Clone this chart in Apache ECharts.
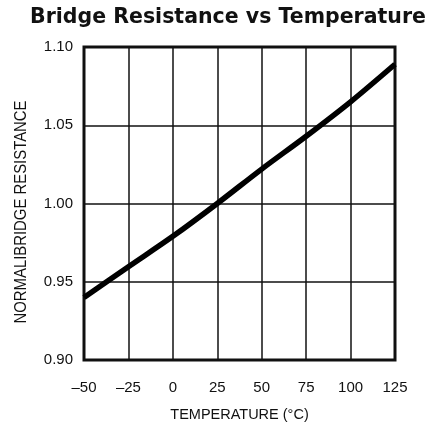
<!DOCTYPE html>
<html><head><meta charset="utf-8">
<script src="https://cdn.jsdelivr.net/npm/echarts@6/dist/echarts.min.js"></script>
<style>html,body{margin:0;padding:0;background:#fff}#c{width:431px;height:428px}</style>
</head><body><div id="c"></div>
<script>
const titleText = 'Bridge Resistance vs Temperature';
const xName = 'TEMPERATURE (°C)';
const yName = 'NORMALIBRIDGE RESISTANCE';
const temps = [-50, -25, 0, 25, 50, 75, 100, 125];
const resistance = [0.940, 0.9596, 0.979, 1.000, 1.022, 1.043, 1.065, 1.089];
const xTicks = [-50, -25, 0, 25, 50, 75, 100, 125];
const yTicks = [0.90, 0.95, 1.00, 1.05, 1.10];

const narrow = '"Liberation Sans Narrow", "Arial Narrow", "Liberation Sans", sans-serif';
const chart = echarts.init(document.getElementById('c'), null, {renderer: 'canvas'});
chart.setOption({
  animation: false,
  backgroundColor: '#fff',
  title: {
    text: titleText, left: 223, top: 2, textAlign: 'center',
    textStyle: {fontFamily: '"DejaVu Sans", sans-serif', fontWeight: 'bold', fontSize: 20.5, color: '#111'}
  },
  grid: {left: 84, right: 36, top: 47, bottom: 68, show: true, borderColor: '#111', borderWidth: 3, backgroundColor: 'transparent'},
  xAxis: {
    type: 'value', min: xTicks[0], max: xTicks[xTicks.length - 1], interval: 25,
    name: xName, nameLocation: 'middle', nameGap: 47,
    nameTextStyle: {fontFamily: narrow, fontSize: 14.5, color: '#111'},
    axisLine: {show: false}, axisTick: {show: false},
    axisLabel: {margin: 20, fontFamily: narrow, fontSize: 15, color: '#111',
      formatter: v => String(v).replace('-', '\u2013')},
    splitLine: {show: true, lineStyle: {color: '#111', width: 1.5}}
  },
  yAxis: {
    type: 'value', min: yTicks[0], max: yTicks[yTicks.length - 1], interval: 0.05,
    axisLine: {show: false}, axisTick: {show: false},
    axisLabel: {margin: 11, fontFamily: narrow, fontSize: 15, color: '#111',
      formatter: v => v.toFixed(2)},
    splitLine: {show: true, lineStyle: {color: '#111', width: 1.5}}
  },
  graphic: [{
    type: 'text', x: 22, y: 212, rotation: Math.PI / 2, scaleX: 0.93,
    style: {text: yName, font: '16px ' + narrow, fill: '#111', align: 'center', verticalAlign: 'middle'}
  }],
  series: [{
    type: 'line', data: temps.map((t, i) => [t, resistance[i]]),
    smooth: 0.3, showSymbol: false, clip: true,
    lineStyle: {color: '#000', width: 5.5}
  }]
});
</script></body></html>
